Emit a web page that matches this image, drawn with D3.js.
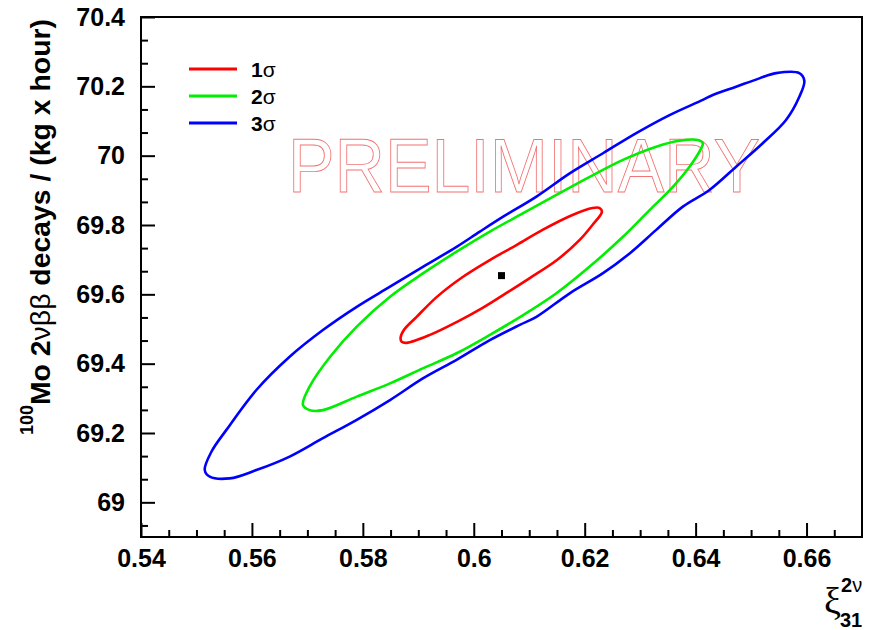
<!DOCTYPE html>
<html>
<head>
<meta charset="utf-8">
<script src="https://cdn.jsdelivr.net/npm/d3@7"></script>
<style>
  body { margin: 0; background: #fff; }
  svg { display: block; font-family: "Liberation Sans", Arial, Helvetica, sans-serif; }
</style>
</head>
<body>
<div id="chart"></div>
<script>
// axis ranges and ticks
const xDomain = [0.54, 0.67];
const yDomain = [68.9, 70.4];
const xMajorTicks = [0.54, 0.56, 0.58, 0.60, 0.62, 0.64, 0.66];
const yMajorTicks = [69.0, 69.2, 69.4, 69.6, 69.8, 70.0, 70.2, 70.4];
const xMinorPerMajor = 4;
const yMinorPerMajor = 3;

// best fit point
const bestFit = [0.6050, 69.654];

// contours, [xi31, decays] pairs
const sigma1 = [
  [0.5868, 69.474], [0.5874, 69.497], [0.5897, 69.535], [0.5933, 69.592],
  [0.5980, 69.650], [0.6029, 69.699], [0.6077, 69.742], [0.6124, 69.786],
  [0.6178, 69.829], [0.6214, 69.849], [0.6227, 69.849], [0.6231, 69.838],
  [0.6214, 69.800], [0.6191, 69.757], [0.6150, 69.699], [0.6101, 69.647],
  [0.6059, 69.604], [0.6016, 69.561], [0.5969, 69.520], [0.5921, 69.483],
  [0.5879, 69.460], [0.5870, 69.463]
];
const sigma2 = [
  [0.5692, 69.281], [0.5704, 69.334], [0.5741, 69.420], [0.5789, 69.507],
  [0.5849, 69.593], [0.5909, 69.661], [0.5969, 69.723], [0.6029, 69.781],
  [0.6089, 69.834], [0.6149, 69.887], [0.6209, 69.939], [0.6269, 69.988],
  [0.6329, 70.026], [0.6371, 70.043], [0.6404, 70.045], [0.6413, 70.036],
  [0.6410, 70.021], [0.6389, 69.968], [0.6359, 69.910], [0.6317, 69.843],
  [0.6269, 69.766], [0.6209, 69.680], [0.6149, 69.603], [0.6089, 69.540],
  [0.6029, 69.483], [0.5969, 69.430], [0.5909, 69.387], [0.5849, 69.343],
  [0.5789, 69.305], [0.5728, 69.266], [0.5704, 69.266]
];
const sigma3 = [
  [0.5515, 69.093], [0.5527, 69.146], [0.5554, 69.209], [0.5608, 69.324],
  [0.5668, 69.420], [0.5728, 69.497], [0.5789, 69.564], [0.5849, 69.622],
  [0.5909, 69.680], [0.5969, 69.737], [0.6011, 69.781], [0.6053, 69.824],
  [0.6113, 69.882], [0.6173, 69.949], [0.6233, 70.007], [0.6293, 70.065],
  [0.6353, 70.117], [0.6413, 70.161], [0.6431, 70.175], [0.6473, 70.199],
  [0.6515, 70.223], [0.6545, 70.238], [0.6587, 70.238], [0.6596, 70.216],
  [0.6587, 70.170], [0.6563, 70.103], [0.6521, 70.036], [0.6473, 69.968],
  [0.6425, 69.901], [0.6377, 69.853], [0.6329, 69.786], [0.6281, 69.718],
  [0.6233, 69.661], [0.6173, 69.603], [0.6113, 69.535], [0.6083, 69.512],
  [0.6029, 69.468], [0.5969, 69.411], [0.5909, 69.358], [0.5849, 69.295],
  [0.5789, 69.238], [0.5728, 69.185], [0.5668, 69.132], [0.5608, 69.093],
  [0.5560, 69.069], [0.5524, 69.074]
];

const contours = [
  {label: '1', color: '#ff0000', points: sigma1},
  {label: '2', color: '#00ee00', points: sigma2},
  {label: '3', color: '#0000ff', points: sigma3}
];

const width = 874, height = 630;
const margin = {top: 17, right: 12, bottom: 93, left: 141};
const plotW = width - margin.left - margin.right;
const plotH = height - margin.top - margin.bottom;

const svg = d3.select('#chart').append('svg')
  .attr('width', width)
  .attr('height', height);

const g = svg.append('g')
  .attr('transform', `translate(${margin.left},${margin.top})`);

const x = d3.scaleLinear().domain(xDomain).range([0, plotW]);
const y = d3.scaleLinear().domain(yDomain).range([plotH, 0]);

// minor tick values
const xMinor = [];
for (let i = 0; i < xMajorTicks.length; i++) {
  const step = 0.02 / xMinorPerMajor;
  for (let k = 1; k < xMinorPerMajor; k++) {
    const v = xMajorTicks[i] + k * step;
    if (v < xDomain[1]) xMinor.push(v);
  }
}
const yMinor = [];
for (let i = 0; i < yMajorTicks.length; i++) {
  const step = 0.2 / yMinorPerMajor;
  for (let k = 1; k < yMinorPerMajor; k++) {
    const v = yMajorTicks[i] - k * step;
    if (v > yDomain[0]) yMinor.push(v);
  }
}

const fmtX = d => String(+d.toFixed(2));
const fmtY = d => String(+d.toFixed(1));

// x axis
const xAxis = g.append('g')
  .attr('transform', `translate(0,${plotH})`)
  .call(d3.axisBottom(x).tickValues(xMajorTicks).tickSize(-14).tickPadding(12).tickFormat(fmtX));
g.append('g')
  .attr('transform', `translate(0,${plotH})`)
  .call(d3.axisBottom(x).tickValues(xMinor).tickSize(-7).tickFormat(''))
  .call(a => a.select('.domain').remove());

// y axis
const yAxis = g.append('g')
  .call(d3.axisLeft(y).tickValues(yMajorTicks).tickSize(-14).tickPadding(16).tickFormat(fmtY));
g.append('g')
  .call(d3.axisLeft(y).tickValues(yMinor).tickSize(-7).tickFormat(''))
  .call(a => a.select('.domain').remove());

g.selectAll('.tick line').attr('stroke', '#000').attr('stroke-width', 2);
[xAxis, yAxis].forEach(a => {
  a.select('.domain').remove();
  a.attr('font-family', null).attr('font-size', null);
  a.selectAll('text')
    .attr('fill', '#000')
    .style('font-size', '25px')
    .style('font-weight', 'bold');
});

// frame
g.append('rect')
  .attr('width', plotW)
  .attr('height', plotH)
  .attr('fill', 'none')
  .attr('stroke', '#000')
  .attr('stroke-width', 2);

// PRELIMINARY watermark
g.append('text')
  .attr('x', 288 - margin.left)
  .attr('y', 192 - margin.top)
  .attr('textLength', 472)
  .attr('lengthAdjust', 'spacingAndGlyphs')
  .attr('fill', 'none')
  .attr('stroke', '#ee4444')
  .attr('stroke-opacity', 0.75)
  .attr('stroke-width', 0.9)
  .style('font-size', '76px')
  .text('PRELIMINARY');

// contours
const line = d3.line()
  .x(d => x(d[0]))
  .y(d => y(d[1]))
  .curve(d3.curveCatmullRomClosed.alpha(0.5));

g.selectAll('.contour')
  .data(contours.slice().reverse())
  .enter().append('path')
  .attr('class', 'contour')
  .attr('d', d => line(d.points))
  .attr('fill', 'none')
  .attr('stroke', d => d.color)
  .attr('stroke-width', 2.6)
  .attr('stroke-linejoin', 'round');

// best fit marker
g.append('rect')
  .attr('x', x(bestFit[0]) - 3.5)
  .attr('y', y(bestFit[1]) - 3.5)
  .attr('width', 7)
  .attr('height', 7)
  .attr('fill', '#000');

// legend
const legend = svg.append('g').attr('transform', 'translate(189,69)');
contours.forEach((c, i) => {
  const row = legend.append('g').attr('transform', `translate(0,${i * 27})`);
  row.append('line')
    .attr('x1', 0).attr('x2', 48)
    .attr('stroke', c.color)
    .attr('stroke-width', 3);
  const t = row.append('text')
    .attr('x', 62)
    .attr('y', 8)
    .attr('fill', '#000')
    .style('font-size', '21px');
  t.append('tspan').style('font-weight', 'bold').text(c.label);
  t.append('tspan').style('font-weight', 'normal').text('σ');
});

// y axis title
const yTitle = svg.append('text')
  .attr('transform', 'translate(50,19) rotate(-90)')
  .attr('text-anchor', 'end')
  .attr('fill', '#000')
  .style('font-size', '28.4px')
  .style('font-weight', 'bold');
yTitle.append('tspan').attr('dy', -17).style('font-size', '18px').text('100');
yTitle.append('tspan').attr('dy', 17).text('Mo 2');
yTitle.append('tspan').style('font-weight', 'normal').text('νββ');
yTitle.append('tspan').text(' decays / (kg x hour)');

// x axis title
svg.append('text')
  .attr('x', 824)
  .attr('y', 614)
  .attr('fill', '#000')
  .style('font-size', '38px')
  .style('font-family', '"Liberation Serif", serif')
  .text('ξ');
const sup = svg.append('text')
  .attr('x', 841)
  .attr('y', 592)
  .attr('fill', '#000')
  .style('font-size', '20px');
sup.append('tspan').style('font-weight', 'bold').text('2');
sup.append('tspan').style('font-weight', 'normal').text('ν');
svg.append('text')
  .attr('x', 840)
  .attr('y', 627)
  .attr('fill', '#000')
  .style('font-size', '20px')
  .style('font-weight', 'bold')
  .text('31');
</script>
</body>
</html>
